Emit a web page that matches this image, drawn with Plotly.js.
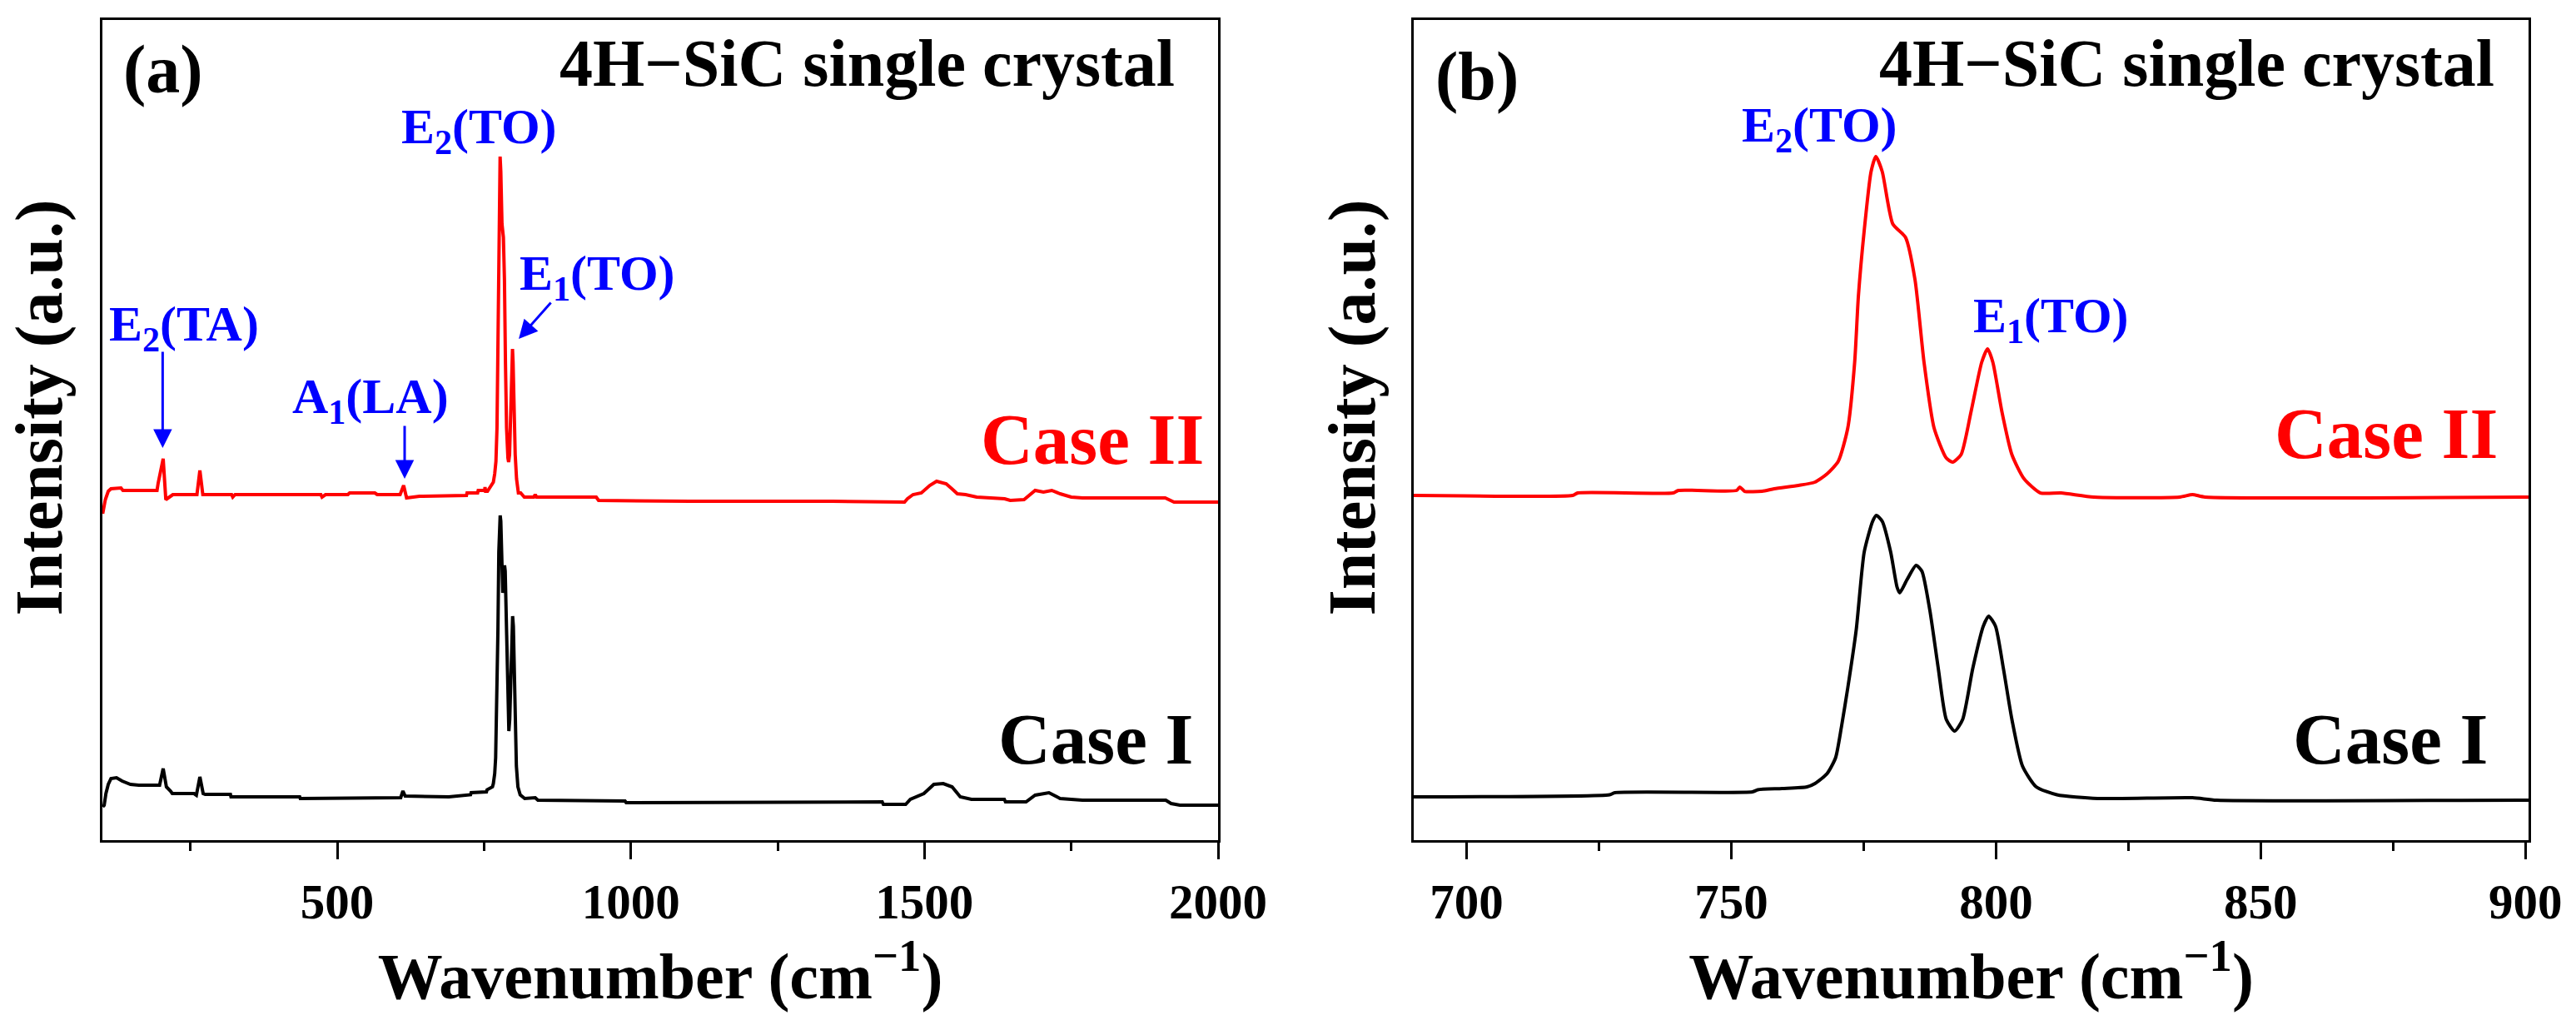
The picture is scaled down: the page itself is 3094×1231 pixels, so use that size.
<!DOCTYPE html>
<html>
<head>
<meta charset="utf-8">
<script src="https://cdn.plot.ly/plotly-3.0.1.min.js"></script>
<style>html,body{margin:0;padding:0;background:#fff;}#chart{width:3094px;height:1231px;}</style>
</head>
<body>
<div id="chart"></div>
<script>
// Raman spectra of 4H-SiC single crystal (arbitrary units, curves stacked as drawn)
const caseI_wavenumber = [100.5,103,106,110,114.6,124,133.6,147.8,162,197.4,203.5,209,216,219,256,260,266,271.6,275,318,319,436,437,521,522,608,611.8,615.6,690,727,728,754,755,759.6,764.3,765.8,768.1,769.7,770.8,772.0,773.6,775.1,776.7,777.4,778.5,780.1,781.3,781.8,783.2,784.9,786.0,787.5,789.1,790.6,792.2,793.7,795.6,797.6,798.6,799.9,801.4,803.0,805.0,807.6,811.5,819.2,837.1,841.7,900,990,992,1343,1428,1430,1468,1476,1499,1516,1532,1547,1561,1580,1636,1638,1673,1688.5,1712,1731,1769,1911,1920,1935,2000];
const caseI_intensity = [40,42,56,67,74,75,71,67,66,66,86,64,59,56,56,54,76,56,55,55,52,52,50,50,51,51,59,53,52,54.5,57,58,60.5,62,64,68,80,99,136,183,253,346,383,390,383,346,304,297,313,330,323,276,206,145,131,145,206,257,269,257,206,145,89,64,54.5,50,51,48,48,47,45,46,46,43,43,49,56,67,68,64,52,49,49,46,46,54,57,50,48,48,44,42,42];

const caseII_wavenumber = [100.5,105,110,114.6,131.6,135,193,195,203.5,208,214,220,261,266,271,320,322,326,472,474,480,518,521,564,568,607,613,618,640,690,720,721,739,740,751,751.6,752.5,755.8,758.1,762.7,765.8,768.1,770.2,772.0,773.3,774.0,775.1,776.4,777.3,778.5,780.5,782.9,784.7,786.4,788.3,790.6,791.8,793.4,795.3,797.3,798.4,799.4,801.1,803.0,805.3,808.4,812.3,818.5,834.7,837.1,839.5,900,941,945,1100,1343,1438,1440,1466,1471,1480.5,1494.7,1509,1520.7,1537,1546.7,1556,1570,1589,1636.5,1646,1669.6,1679,1688.5,1702.6,1716.8,1731,1750,1769,1910,1925,2000];
const caseII_intensity = [392,409,419,422,423,420,420,429,458,409,412,415,415,444,415,415,412,415,415,412,415,415,417,417,415,415,426,411,413,414,414,417,417,420,420,424,419,419,422,426,430,440,455,495,574,653,732,803,821,803,740,724,673,574,495,459,454,463,515,574,590,574,515,463,434,417,417,412,412,415,412,412,412,408,407,407,407,406,406,410,415,417,426,431,428,422,416,415,412,410,408,409,414,420,418,420,416,412,411,411,406,406];

const ticksA = [500, 1000, 1500, 2000];
const ticksB = [700, 750, 800, 850, 900];

const serif = 'Liberation Serif, Times New Roman, serif';
const RED = '#FF0000', BLUE = '#0000FF', BLACK = '#000000';

const traces = [
  {x: caseII_wavenumber, y: caseII_intensity, xaxis: 'x', yaxis: 'y', mode: 'lines', line: {color: RED, width: 4}, name: 'Case II'},
  {x: caseI_wavenumber, y: caseI_intensity, xaxis: 'x', yaxis: 'y', mode: 'lines', line: {color: BLACK, width: 4}, name: 'Case I'},
  {x: caseII_wavenumber, y: caseII_intensity, xaxis: 'x2', yaxis: 'y2', mode: 'lines', line: {color: RED, width: 4, shape: 'spline', smoothing: 0.6}, name: 'Case II'},
  {x: caseI_wavenumber, y: caseI_intensity, xaxis: 'x2', yaxis: 'y2', mode: 'lines', line: {color: BLACK, width: 4, shape: 'spline', smoothing: 0.6}, name: 'Case I'}
];

function xAxis(domain, range, tickvals, minorDtick, anchor) {
  return {
    domain: domain, range: range, anchor: anchor,
    tickmode: 'array', tickvals: tickvals,
    ticks: 'outside', ticklen: 20, tickwidth: 3, tickcolor: BLACK,
    minor: {tickmode: 'linear', tick0: 0, dtick: minorDtick, ticks: 'outside', ticklen: 10, tickwidth: 3, tickcolor: BLACK, showgrid: false},
    showline: true, linewidth: 3, linecolor: BLACK, mirror: true,
    showgrid: false, zeroline: false,
    tickfont: {family: serif, size: 59, color: BLACK, weight: 'bold'},
    title: {text: 'Wavenumber (cm<sup>\u22121</sup>)', font: {family: serif, size: 78, color: BLACK, weight: 'bold'}, standoff: 30}
  };
}
function yAxis(anchor) {
  return {
    domain: [0.18034, 0.98050], range: [0, 985], anchor: anchor,
    tickmode: 'array', tickvals: [], showticklabels: false, ticks: '',
    showline: true, linewidth: 3, linecolor: BLACK, mirror: true,
    showgrid: false, zeroline: false
  };
}

function label(text, x, y, size, color, xanchor, angle) {
  return {text: text, xref: 'paper', yref: 'paper', x: x, y: y, xanchor: xanchor || 'center', yanchor: 'middle',
          textangle: angle || 0,
          showarrow: false, font: {family: serif, size: size, color: color, weight: 'bold'}};
}
function arrow(xref, yref, x, y, ax, ay) {
  return {text: '', xref: xref, yref: yref, axref: xref, ayref: yref, x: x, y: y, ax: ax, ay: ay,
          showarrow: true, arrowhead: 2, arrowsize: 1.5, arrowwidth: 3, arrowcolor: BLUE, standoff: 0, startstandoff: 0};
}

const annotations = [
  label('Intensity (a.u.)', 0.01551, 0.60236, 80, BLACK, 'center', -90),
  label('(a)', 0.06335, 0.93233, 82, BLACK),
  label('4H\u2212SiC single crystal', 0.45669, 0.93826, 80, BLACK, 'right'),
  label('E<sub>2</sub>(TO)', 0.18601, 0.87267, 60, BLUE),
  label('E<sub>1</sub>(TO)', 0.23206, 0.72969, 60, BLUE),
  label('E<sub>2</sub>(TA)', 0.07159, 0.68014, 60, BLUE),
  label('A<sub>1</sub>(LA)', 0.14367, 0.60946, 60, BLUE),
  label('Case II', 0.46801, 0.57140, 87, RED, 'right'),
  label('Case I', 0.46380, 0.27896, 87, BLACK, 'right'),
  arrow('x', 'y', 202.6, 471, 202.6, 588),
  arrow('x', 'y', 614.7, 434, 614.7, 499),
  arrow('x', 'y', 809, 602, 865.6, 647),
  label('Intensity (a.u.)', 0.52489, 0.60236, 80, BLACK, 'center', -90),
  label('(b)', 0.57337, 0.92583, 82, BLACK),
  label('4H\u2212SiC single crystal', 0.96897, 0.93826, 80, BLACK, 'right'),
  label('E<sub>2</sub>(TO)', 0.70637, 0.87429, 60, BLUE),
  label('E<sub>1</sub>(TO)', 0.79606, 0.68826, 60, BLUE),
  label('Case II', 0.97026, 0.57709, 87, RED, 'right'),
  label('Case I', 0.96639, 0.27896, 87, BLACK, 'right')
];

const layout = {
  width: 3094, height: 1231,
  margin: {l: 0, r: 0, t: 0, b: 0},
  paper_bgcolor: '#FFFFFF', plot_bgcolor: '#FFFFFF',
  showlegend: false,
  xaxis: xAxis([123/3094, 1463/3094], [100, 2000], ticksA, 250, 'y'),
  yaxis: yAxis('x'),
  xaxis2: xAxis([1698/3094, 3037/3094], [690, 900.6], ticksB, 25, 'y2'),
  yaxis2: yAxis('x2'),
  annotations: annotations
};

Plotly.newPlot('chart', traces, layout, {staticPlot: true, displayModeBar: false});
</script>
</body>
</html>
